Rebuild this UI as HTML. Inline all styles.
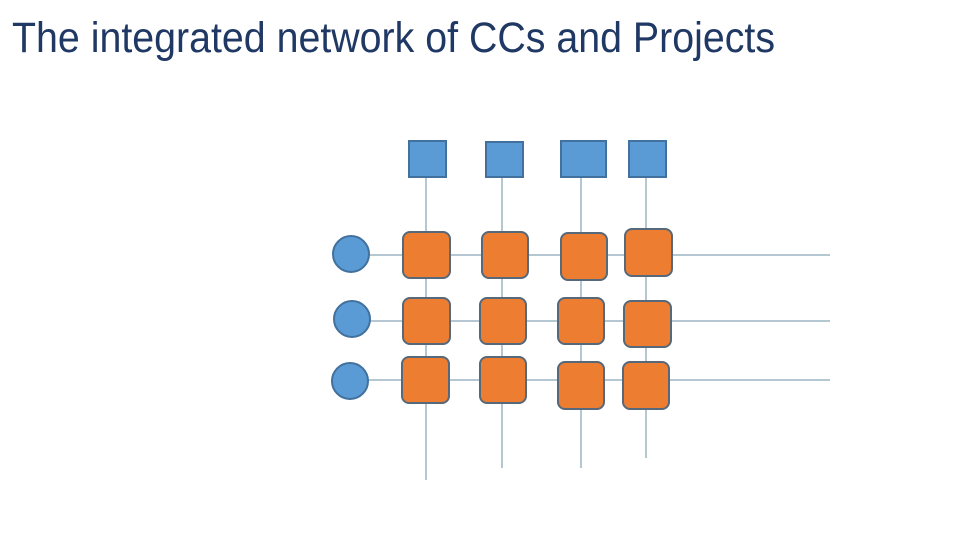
<!DOCTYPE html>
<html><head><meta charset="utf-8"><style>
html,body{margin:0;padding:0;background:#fff;}
svg{display:block;}
</style></head><body>
<svg width="960" height="540" viewBox="0 0 960 540" xmlns="http://www.w3.org/2000/svg">
<rect width="960" height="540" fill="#fff"/>
<text x="12" y="52" font-family="Liberation Sans, sans-serif" font-size="43" fill="#203864" textLength="763" lengthAdjust="spacingAndGlyphs">The integrated network of CCs and Projects</text>
<g stroke="#6E8FA8" stroke-width="1">
<line x1="426" y1="177" x2="426" y2="480"/>
<line x1="502" y1="177" x2="502" y2="468"/>
<line x1="581" y1="177" x2="581" y2="468"/>
<line x1="646" y1="177" x2="646" y2="458"/>
<line x1="369" y1="255" x2="830" y2="255"/>
<line x1="370" y1="321" x2="830" y2="321"/>
<line x1="368" y1="380" x2="830" y2="380"/>
</g>
<g fill="#5B9BD5" stroke="#41719C" stroke-width="2">
<rect x="409" y="141" width="37" height="36"/>
<rect x="486" y="142" width="37" height="35"/>
<rect x="561" y="141" width="45" height="36"/>
<rect x="629" y="141" width="37" height="36"/>
<circle cx="351" cy="254" r="18"/>
<circle cx="352" cy="319" r="18"/>
<circle cx="350" cy="381" r="18"/>
</g>
<g fill="#ED7D31" stroke="#56687A" stroke-width="2">
<rect x="403" y="232" width="47" height="46" rx="7"/>
<rect x="482" y="232" width="46" height="46" rx="7"/>
<rect x="561" y="233" width="46" height="47" rx="7"/>
<rect x="625" y="229" width="47" height="47" rx="7"/>
<rect x="403" y="298" width="47" height="46" rx="7"/>
<rect x="480" y="298" width="46" height="46" rx="7"/>
<rect x="558" y="298" width="46" height="46" rx="7"/>
<rect x="624" y="301" width="47" height="46" rx="7"/>
<rect x="402" y="357" width="47" height="46" rx="7"/>
<rect x="480" y="357" width="46" height="46" rx="7"/>
<rect x="558" y="362" width="46" height="47" rx="7"/>
<rect x="623" y="362" width="46" height="47" rx="7"/>
</g>
</svg>
</body></html>
